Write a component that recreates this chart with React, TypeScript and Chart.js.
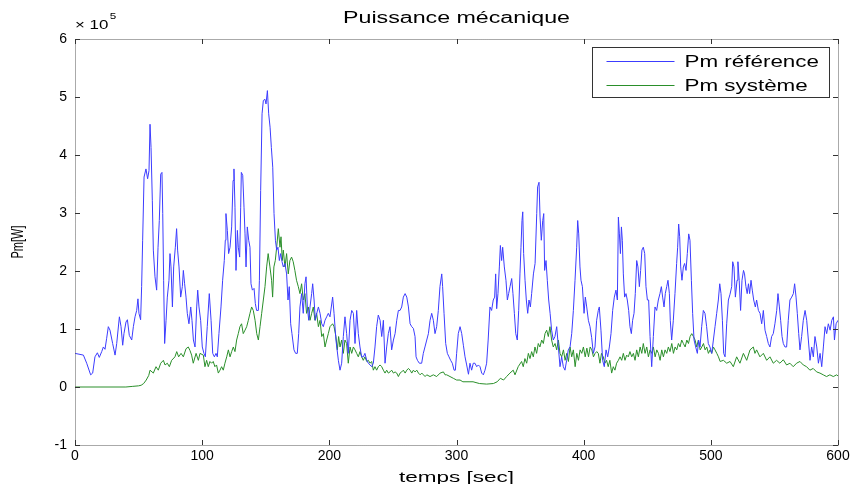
import React, { useEffect, useRef } from 'react';
import { Chart, registerables } from 'chart.js';

Chart.register(...registerables);

// Values of power are in units of 10^5 W
const timeRef = [
  0, 6.6, 9.2, 12.3, 13.9, 15.7, 17.6, 19.1, 21, 22.3, 23.6, 24.9, 26.2, 27.5, 29.6, 31.5, 32.8, 34.9, 36.2, 37.5,
  38.5, 40.1, 41.2, 42.7, 44.6, 45.9, 47.2, 48.5, 49.5, 50.3, 51.6, 52.4, 53.2, 54.3, 55.8, 57.1, 58.2, 59, 59.8, 60.8,
  61.6, 62.9, 64.2, 65.3, 66.3, 67.4, 68.4, 69, 69.7, 70.5, 71.6, 72.6, 73.9, 74.7, 75.5, 76.6, 77.6, 78.9, 79.9, 80.7,
  81.8, 83.1, 84.4, 85.2, 86.2, 87.3, 88.3, 89.6, 91, 92, 93.1, 94.4, 95.7, 96.5, 97.5, 98.8, 100.1, 101.4, 102.5, 104,
  105.6, 107, 108.3, 109.6, 110.9, 111.9, 113.2, 114.8, 116.1, 117.4, 118.2, 118.7, 119.8, 120.8, 121.9, 123.2, 124.3, 125, 125.8, 126.6,
  127.7, 128.4, 129.5, 130.3, 130.8, 131.9, 132.9, 133.7, 134.5, 135.5, 136.6, 137.6, 138.4, 139.5, 140.8, 141.8, 142.8, 144.2, 145, 146,
  147.1, 148.1, 149.4, 150.2, 151.3, 152.3, 153.4, 154.4, 155.5, 156.5, 157.6, 158.6, 159.6, 160.7, 161.7, 162.8, 163.8, 165.1, 166.4, 167.5,
  168.5, 169.6, 170.6, 172.2, 173.5, 174.8, 175.9, 176.9, 178.2, 179.5, 180.8, 181.7, 182.7, 183.8, 184.8, 186.1, 186.9, 188, 189, 190.1,
  191.4, 192.7, 194, 195.3, 196.6, 197.9, 199.2, 200.5, 202.6, 203.7, 205.2, 207.1, 208.4, 209.7, 211, 212.3, 213.6, 214.9, 216.3, 217.6,
  218.9, 220.2, 221.5, 222.8, 224.1, 225.4, 226.7, 228, 229.4, 230.7, 232, 233.3, 234.6, 235.9, 237.2, 238.5, 239.9, 241.2, 242.5, 243.8,
  245.1, 246.4, 247.7, 249, 250.4, 251.7, 253, 254.3, 255.6, 256.9, 258.2, 259.6, 260.9, 262.2, 263.5, 264.8, 266.1, 267.4, 268.2, 269.3,
  270.8, 272.6, 273.9, 275.2, 276.6, 277.9, 279.2, 280.5, 281.8, 283.1, 284.4, 285.7, 287, 288.4, 289.1, 290.2, 291.5, 292.8, 294.1, 295.4,
  296.7, 298.1, 299.1, 300.1, 301.4, 302.8, 304.1, 305.4, 306.7, 308, 309.4, 310.6, 311.9, 313.2, 314.5, 315.9, 317.2, 318.5, 319.8, 321.1,
  322.4, 323.7, 324.9, 326.3, 327.6, 328.9, 330, 330.8, 331.6, 332.6, 333.7, 334.5, 335.5, 336.3, 337.6, 338.9, 340, 341, 342.1, 343.4,
  344.4, 345.5, 346.6, 347.8, 348.9, 349.9, 350.7, 351.5, 352.1, 352.8, 353.9, 354.9, 356, 357, 358.1, 359.1, 360.5, 361.8, 363.1, 363.8,
  364.9, 365.7, 366.7, 367.8, 368.6, 369.3, 370.4, 371.4, 372.5, 373.6, 374.8, 376.1, 377.4, 378.8, 380.1, 381.4, 382.7, 384, 385.3, 386.6,
  387.9, 389.3, 390.6, 391.9, 393.2, 394.5, 395.3, 396.1, 397.1, 397.9, 399, 400.3, 401.3, 402.4, 403.7, 405, 406.3, 407.6, 408.9, 410.2,
  411.5, 412.3, 413.6, 414.9, 416.2, 417.6, 418.9, 420.2, 421.5, 422.8, 424.1, 425.4, 426.5, 427.3, 428.1, 428.9, 429.7, 430.4, 431.2, 432.2,
  433.3, 434.3, 435.4, 436.4, 437.5, 438.5, 439.6, 440.6, 441.7, 442.7, 443.8, 444.8, 445.8, 446.9, 448, 449, 450.1, 451.1, 452.2, 453.5,
  454.8, 456.1, 457.4, 458.7, 460, 461.1, 462.1, 463.2, 464.2, 465.3, 466.3, 467.4, 468.1, 469.2, 470.5, 471.8, 473.1, 473.9, 474.7, 475.5,
  476.3, 477.3, 478.4, 479.4, 480.5, 481.5, 482.6, 483.6, 484.7, 485.7, 486.8, 488.1, 489.4, 490.4, 491.5, 492.8, 494.1, 495.4, 496.7, 498,
  499.3, 500.7, 502, 503.3, 504.6, 505.9, 507, 508, 509.1, 510.1, 511.2, 512.5, 513.8, 515.1, 516.4, 517.2, 518.2, 519.3, 520.6, 521.3,
  522.3, 523.4, 524.5, 525.7, 526.5, 527.6, 528.6, 529.6, 530.5, 531.6, 532.6, 533.7, 535, 536, 537.4, 538.7, 540, 541.3, 542.6, 543.9,
  545.2, 546.5, 547.8, 549.1, 550.4, 551.8, 552.8, 553.9, 554.9, 556, 557, 558.3, 559.6, 560.9, 562.2, 563.6, 564.9, 565.9, 567, 568,
  569.1, 570.1, 571.4, 572.7, 574.1, 575.4, 576.7, 578, 579.3, 580.6, 581.9, 583.3, 584.6, 585.9, 587.2, 588.5, 589.8, 591.1, 592.4, 593.8,
  595.1, 596.4, 597.2, 598.5, 600,
];

const pmRef = [
  0.58, 0.55, 0.41, 0.21, 0.24, 0.52, 0.59, 0.51, 0.61, 0.69, 0.65, 0.84, 1.04, 0.98, 0.75, 0.55, 0.75, 1.21, 1.04, 0.72,
  0.92, 1.12, 1.16, 0.89, 0.81, 1.04, 1.21, 1.32, 1.52, 1.27, 1.16, 1.73, 2.53, 3.62, 3.76, 3.59, 3.73, 4.53, 4.13, 3.22,
  2.36, 1.9, 1.67, 2.41, 2.87, 3.67, 3.7, 2.99, 1.84, 0.75, 1.15, 1.55, 1.84, 2.3, 2.07, 1.38, 2.07, 2.41, 2.73, 2.36,
  2.07, 1.55, 1.73, 2.01, 1.78, 1.55, 1.27, 1.09, 1.38, 1.15, 0.81, 0.69, 1.38, 1.67, 1.38, 1.15, 0.69, 0.58, 0.52, 1.04,
  1.61, 1.15, 0.58, 0.52, 0.58, 0.52, 0.92, 1.38, 1.84, 2.18, 2.53, 2.99, 2.7, 2.3, 2.41, 2.76, 3.56, 3.76, 3.1, 2.01,
  2.7, 2.41, 2.24, 3.1, 3.7, 3.65, 3.1, 2.64, 2.07, 2.76, 2.53, 2.41, 1.78, 1.67, 1.7, 1.44, 1.32, 1.32, 1.84, 3.39,
  4.71, 4.94, 4.96, 4.88, 5.11, 4.71, 4.48, 4.13, 3.79, 2.99, 2.53, 2.36, 2.41, 2.18, 2.3, 2.16, 2.07, 2.13, 1.95, 1.5,
  1.73, 1.09, 0.92, 0.64, 0.58, 0.58, 0.92, 1.38, 1.61, 1.27, 1.78, 1.9, 1.38, 1.15, 1.38, 1.61, 1.78, 1.5, 1.15, 1.27,
  1.38, 1.27, 1.09, 1.04, 1.15, 1.21, 1.27, 1.21, 1.55, 1.27, 0.81, 0.46, 0.29, 0.41, 0.87, 1.21, 0.92, 0.58, 1.15, 1.32,
  1.27, 0.75, 1.32, 0.92, 0.69, 0.52, 0.52, 0.58, 0.46, 0.41, 0.38, 0.35, 0.41, 0.69, 1.04, 1.24, 1.15, 0.87, 1.15, 0.41,
  0.69, 0.92, 1.04, 0.64, 0.81, 0.92, 1.15, 1.32, 1.32, 1.38, 1.55, 1.61, 1.55, 1.38, 1.09, 1.04, 1.01, 0.87, 0.52, 0.46,
  0.41, 0.41, 0.58, 0.69, 0.81, 0.92, 1.15, 1.27, 1.15, 0.92, 1.04, 1.32, 1.73, 1.95, 1.73, 1.27, 0.75, 0.58, 0.52, 0.46,
  0.41, 0.29, 0.29, 0.58, 0.92, 1.04, 0.92, 0.72, 0.52, 0.38, 0.22, 0.41, 0.29, 0.41, 0.41, 0.35, 0.38, 0.35, 0.24, 0.21,
  0.29, 0.41, 0.81, 1.38, 1.32, 1.5, 1.55, 1.95, 1.35, 1.61, 2.07, 2.44, 2.18, 2.41, 2.07, 1.84, 1.5, 1.61, 1.73, 1.87,
  1.61, 1.27, 0.92, 0.81, 1.32, 1.95, 2.41, 2.87, 3.02, 2.3, 1.84, 1.5, 1.27, 1.5, 1.38, 1.61, 1.95, 2.13, 2.99, 3.45,
  3.53, 2.93, 2.53, 2.87, 2.99, 2.01, 2.18, 1.84, 1.5, 1.27, 0.98, 0.81, 0.87, 1.04, 0.69, 0.35, 0.52, 0.35, 0.29, 0.46,
  0.64, 0.69, 0.92, 1.32, 1.84, 2.41, 2.87, 2.64, 2.07, 1.84, 1.73, 1.27, 1.55, 1.38, 1.15, 1.04, 0.85, 0.58, 0.69, 1.15,
  1.32, 1.38, 0.98, 0.46, 0.35, 0.64, 0.52, 0.69, 0.92, 1.32, 1.55, 1.67, 1.5, 2.93, 2.64, 2.3, 2.76, 2.53, 1.95, 1.55,
  1.61, 1.5, 1.32, 1.04, 0.92, 1.15, 1.27, 1.61, 2.18, 2.07, 1.73, 2.01, 2.36, 2.41, 2.3, 1.73, 1.5, 1.5, 0.87, 0.35,
  0.87, 1.38, 1.32, 1.5, 1.61, 1.73, 1.55, 1.38, 1.61, 1.73, 1.84, 1.61, 1.15, 0.81, 1.15, 1.61, 2.13, 2.41, 2.81, 2.59,
  2.07, 1.84, 2.07, 2.13, 2.01, 2.3, 2.64, 2.53, 1.84, 1.27, 0.81, 0.69, 0.58, 0.81, 0.69, 1.04, 1.32, 1.27, 1.04, 0.75,
  0.69, 0.58, 0.81, 1.04, 1.27, 1.5, 1.78, 1.61, 1.15, 0.58, 0.52, 1.1, 1.5, 1.6, 1.73, 2.16, 2.07, 1.55, 1.84, 2.16,
  1.84, 1.32, 1.84, 2.01, 1.95, 1.73, 1.61, 1.78, 1.61, 1.84, 1.67, 1.5, 1.38, 1.5, 1.32, 1.27, 1.09, 1.32, 0.98, 0.87,
  0.75, 0.69, 0.87, 0.92, 1.09, 1.32, 1.61, 1.38, 1.15, 0.87, 0.75, 0.69, 0.69, 1.15, 1.5, 1.55, 1.61, 1.78, 1.55, 1.27,
  0.92, 0.64, 0.87, 1.15, 1.32, 1.15, 0.81, 0.46, 0.69, 0.52, 0.87, 0.69, 0.41, 0.58, 0.35, 0.69, 1.04, 0.92, 1.09, 0.98,
  1.15, 1.21, 0.81, 1.09, 1.15,
];

const timeSys = [
  0, 40, 45, 50, 52, 54, 56, 58, 59, 61.6, 63.7, 65.5, 67.4, 69.5, 70.8, 72.6, 74.2, 76, 78.6, 80,
  81.5, 83.4, 85.2, 87.3, 89.1, 90.4, 91.7, 93, 95.2, 97, 98.3, 100.9, 102.2, 103.5, 104.8, 106.1, 107.4, 108.7, 110, 111.3,
  112.7, 114, 115.3, 116.6, 117.9, 119.3, 120.6, 121.9, 123.2, 124.5, 125.8, 127.1, 128.4, 129.7, 131, 132.3, 133.7, 135, 136.3, 137.6,
  138.9, 140.2, 141.6, 142.9, 144.2, 145.5, 146.8, 148.1, 149.4, 150.7, 151.9, 153.3, 154.6, 155.4, 156.4, 157.5, 158.6, 159.9, 161.2, 162,
  163, 163.8, 165.1, 166.4, 167.7, 169, 170.3, 171.6, 172.9, 174.2, 175.6, 176.9, 178.2, 179.5, 180.8, 182.1, 183.5, 184.8, 186.1, 187.4,
  188.7, 190, 191.4, 192.7, 194, 195.3, 196.6, 197.9, 199.2, 200.5, 202.6, 203.7, 205.2, 206.3, 207.3, 208.4, 209.7, 211, 212.3, 213.6,
  214.9, 216.3, 217.6, 218.9, 220.2, 221.5, 222.8, 224.1, 225.4, 226.7, 228, 229.4, 230.7, 232, 233.3, 234.6, 235.9, 237.2, 238.5, 239.9,
  241.2, 242.5, 243.8, 245.1, 246.4, 247.7, 249, 250.4, 251.7, 253, 254.3, 255.6, 256.9, 258.2, 259.6, 260.9, 262.2, 263.5, 264.8, 266.1,
  267.4, 268.8, 270.1, 271.4, 272.7, 274, 275.3, 276.6, 279.2, 281.8, 284.4, 287.1, 289.7, 291, 292.3, 294.9, 297.5, 300.1, 302.8, 305,
  310.6, 313, 318, 323.7, 329, 332, 334.5, 337, 339.4, 342, 344.6, 346, 348.5, 351.2, 352.5, 353.8, 355.2, 356.5, 357.8, 359.1,
  360.4, 361.7, 363, 364.3, 365.6, 367, 368.3, 369.6, 370.9, 372.2, 373.5, 374.8, 376.1, 377.5, 378.8, 380.1, 381.4, 382.7, 384.1, 385.4,
  386.7, 388, 389.3, 390.6, 391.9, 393.3, 394.6, 395.9, 397.2, 398.5, 399.8, 401.2, 402.5, 403.8, 405.1, 406.4, 407.7, 409, 410.3, 411.5,
  412.8, 414, 415.4, 416.7, 418, 419.3, 420.6, 422, 423.3, 424.6, 425.9, 427.3, 428.6, 429.9, 431.2, 432.5, 433.8, 435.1, 436.4, 437.8,
  439.1, 440.4, 441.7, 443, 444.4, 445.7, 446.9, 448.3, 449.6, 450.9, 452.2, 453.5, 454.8, 456.2, 457.5, 458.8, 460.1, 461.4, 462.7, 464,
  465.3, 466.6, 467.9, 469.3, 470.6, 471.9, 473.2, 474.5, 475.8, 477.1, 478.4, 479.8, 481.1, 482.4, 483.7, 485, 486.3, 487.6, 488.9, 490.2,
  491.6, 492.9, 494.2, 495.5, 496.8, 498.1, 499.4, 500.7, 502, 503.3, 504.7, 506, 507.3, 509.9, 512.5, 515.1, 517.7, 520.3, 522.9, 525.6,
  528.2, 530.8, 533.4, 534.7, 536, 538.6, 541.3, 543.9, 546.5, 549.1, 551.7, 554.3, 557, 559.6, 562.2, 564.8, 567.4, 570.1, 572.7, 575.3,
  577.9, 580.5, 583.2, 585.8, 588.4, 591, 593.6, 596.3, 599, 600,
];

const pmSys = [
  0, 0, 0.01, 0.02, 0.03, 0.06, 0.12, 0.2, 0.29, 0.24, 0.35, 0.29, 0.41, 0.46, 0.38, 0.41, 0.35, 0.46, 0.52, 0.61,
  0.52, 0.58, 0.52, 0.66, 0.69, 0.63, 0.55, 0.41, 0.58, 0.46, 0.58, 0.55, 0.35, 0.46, 0.35, 0.44, 0.41, 0.44, 0.35, 0.38,
  0.24, 0.29, 0.35, 0.29, 0.41, 0.52, 0.64, 0.52, 0.61, 0.69, 0.61, 0.81, 0.92, 1.04, 1.09, 0.92, 0.98, 1.04, 1.15, 1.27,
  1.38, 1.32, 1.15, 0.92, 0.81, 1.04, 1.27, 1.5, 1.73, 2.07, 2.3, 2.07, 1.84, 1.55, 2.07, 2.18, 2.41, 2.73, 2.41, 2.59,
  2.18, 2.36, 2.07, 2.3, 1.95, 2.18, 2.24, 2.16, 2.01, 1.84, 1.73, 1.61, 1.78, 1.5, 1.61, 1.27, 1.38, 1.15, 1.27, 1.38,
  1.15, 1.27, 1.04, 1.15, 0.87, 0.92, 0.69, 0.81, 0.92, 1.04, 1.09, 1.04, 0.87, 0.64, 0.87, 0.69, 0.81, 0.58, 0.81, 0.75,
  0.41, 0.69, 0.58, 0.69, 0.64, 0.58, 0.52, 0.61, 0.52, 0.46, 0.52, 0.44, 0.46, 0.41, 0.44, 0.29, 0.35, 0.29, 0.35, 0.38,
  0.35, 0.29, 0.24, 0.29, 0.24, 0.26, 0.29, 0.24, 0.26, 0.24, 0.18, 0.24, 0.26, 0.29, 0.24, 0.29, 0.32, 0.29, 0.24, 0.29,
  0.26, 0.29, 0.24, 0.21, 0.24, 0.21, 0.18, 0.21, 0.18, 0.21, 0.18, 0.24, 0.26, 0.21, 0.21, 0.18, 0.15, 0.12, 0.12, 0.09,
  0.09, 0.09, 0.06, 0.05, 0.06, 0.09, 0.15, 0.12, 0.18, 0.24, 0.29, 0.21, 0.35, 0.44, 0.35, 0.49, 0.41, 0.58, 0.49, 0.61,
  0.52, 0.69, 0.58, 0.75, 0.69, 0.81, 0.75, 0.92, 0.98, 0.87, 1.04, 0.81, 0.69, 0.75, 0.64, 0.81, 0.58, 0.52, 0.64, 0.46,
  0.58, 0.44, 0.69, 0.52, 0.64, 0.35, 0.58, 0.46, 0.64, 0.58, 0.69, 0.52, 0.67, 0.52, 0.69, 0.64, 0.52, 0.58, 0.61, 0.58,
  0.41, 0.58, 0.52, 0.41, 0.46, 0.35, 0.46, 0.24, 0.35, 0.29, 0.41, 0.46, 0.52, 0.46, 0.58, 0.46, 0.55, 0.52, 0.61, 0.52,
  0.58, 0.46, 0.64, 0.52, 0.69, 0.58, 0.75, 0.58, 0.69, 0.52, 0.64, 0.58, 0.69, 0.52, 0.64, 0.58, 0.46, 0.64, 0.52, 0.64,
  0.58, 0.69, 0.61, 0.75, 0.58, 0.69, 0.64, 0.75, 0.69, 0.81, 0.75, 0.69, 0.81, 0.75, 0.87, 0.92, 0.87, 0.81, 0.69, 0.81,
  0.64, 0.69, 0.75, 0.64, 0.69, 0.58, 0.64, 0.58, 0.69, 0.64, 0.58, 0.52, 0.44, 0.46, 0.41, 0.44, 0.35, 0.52, 0.41, 0.58,
  0.46, 0.64, 0.69, 0.58, 0.64, 0.52, 0.58, 0.46, 0.52, 0.41, 0.46, 0.41, 0.47, 0.38, 0.41, 0.35, 0.41, 0.44, 0.38, 0.35,
  0.29, 0.32, 0.26, 0.24, 0.21, 0.18, 0.21, 0.18, 0.21, 0.19,
];

const xTickValues = [0, 100, 200, 300, 400, 500, 600];
const yTickValues = [-1, 0, 1, 2, 3, 4, 5, 6];
const seriesLabels = ['Pm référence', 'Pm système'];
const seriesColors = ['#3c3cff', '#2a8f2a'];
const chartTitle = 'Puissance mécanique';
const xAxisLabel = 'temps [sec]';
const yAxisLabel = 'Pm[W]';
const exponentBase = '× 10';
const exponentPower = '5';

const FONT = "'Liberation Sans', Arial, Helvetica, sans-serif";

const matlabDecor = {
  id: 'matlabDecor',
  afterDatasetsDraw(chart: any) {
    const { ctx, chartArea: ca, scales } = chart;
    const xs = scales.x;
    const ys = scales.y;
    ctx.save();
    // axes box
    ctx.strokeStyle = '#555';
    ctx.lineWidth = 1;
    ctx.setLineDash([1, 1]);
    ctx.strokeRect(Math.round(ca.left) + 0.5, Math.round(ca.top) + 0.5, Math.round(ca.right - ca.left), Math.round(ca.bottom - ca.top));
    ctx.setLineDash([]);
    // inward ticks
    ctx.strokeStyle = '#333';
    ctx.beginPath();
    const tl = 5;
    xTickValues.forEach((v) => {
      const px = Math.round(xs.getPixelForValue(v)) + 0.5;
      ctx.moveTo(px, ca.bottom);
      ctx.lineTo(px, ca.bottom - tl);
      ctx.moveTo(px, ca.top);
      ctx.lineTo(px, ca.top + tl);
    });
    yTickValues.forEach((v) => {
      const py = Math.round(ys.getPixelForValue(v)) + 0.5;
      ctx.moveTo(ca.left, py);
      ctx.lineTo(ca.left + tl, py);
      ctx.moveTo(ca.right, py);
      ctx.lineTo(ca.right - tl, py);
    });
    ctx.stroke();

    // legend box
    const bw = 237;
    const bh = 50;
    const bx = Math.round(ca.right - 9 - bw) + 0.5;
    const by = Math.round(ca.top + 8) + 0.5;
    ctx.fillStyle = '#fff';
    ctx.fillRect(bx, by, bw, bh);
    ctx.strokeStyle = '#333';
    ctx.strokeRect(bx, by, bw, bh);
    seriesLabels.forEach((lab, i) => {
      const ly = Math.round(by + 13 + i * 24) + 0.5;
      ctx.strokeStyle = seriesColors[i];
      ctx.beginPath();
      ctx.moveTo(bx + 14, ly);
      ctx.lineTo(bx + 82, ly);
      ctx.stroke();
      ctx.save();
      ctx.translate(bx + 92, ly);
      ctx.scale(1.4, 1);
      ctx.fillStyle = '#000';
      ctx.font = `16px ${FONT}`;
      ctx.textAlign = 'left';
      ctx.textBaseline = 'middle';
      ctx.fillText(lab, 0, 1);
      ctx.restore();
    });

    // title
    ctx.fillStyle = '#000';
    ctx.save();
    ctx.translate((ca.left + ca.right) / 2, 19);
    ctx.scale(1.45, 1);
    ctx.font = `16px ${FONT}`;
    ctx.textAlign = 'center';
    ctx.textBaseline = 'middle';
    ctx.fillText(chartTitle, 0, 0);
    ctx.restore();

    // exponent
    ctx.save();
    ctx.translate(ca.left, 25);
    ctx.scale(1.3, 1);
    ctx.font = `13px ${FONT}`;
    ctx.textAlign = 'left';
    ctx.textBaseline = 'middle';
    ctx.fillText(exponentBase, 0, 0);
    const w = ctx.measureText(exponentBase).width;
    ctx.font = `9px ${FONT}`;
    ctx.fillText(exponentPower, w + 1, -8);
    ctx.restore();

    // x axis label
    ctx.save();
    ctx.translate((ca.left + ca.right) / 2, 478);
    ctx.scale(1.5, 1);
    ctx.font = `15px ${FONT}`;
    ctx.textAlign = 'center';
    ctx.textBaseline = 'middle';
    ctx.fillText(xAxisLabel, 0, 0);
    ctx.restore();

    // y axis label
    ctx.save();
    ctx.translate(18, (ca.top + ca.bottom) / 2);
    ctx.scale(1.5, 1);
    ctx.rotate(-Math.PI / 2);
    ctx.font = `11px ${FONT}`;
    ctx.textAlign = 'center';
    ctx.textBaseline = 'middle';
    ctx.fillText(yAxisLabel, 0, 0);
    ctx.restore();

    ctx.restore();
  },
};

export default function App() {
  const canvasRef = useRef<HTMLCanvasElement | null>(null);

  useEffect(() => {
    const canvas = canvasRef.current;
    if (!canvas) return;
    const refData = timeRef.map((t, i) => ({ x: t, y: pmRef[i] }));
    const sysData = timeSys.map((t, i) => ({ x: t, y: pmSys[i] }));
    const chart = new Chart(canvas, {
      type: 'line',
      data: {
        datasets: [
          {
            label: seriesLabels[0],
            data: refData,
            borderColor: seriesColors[0],
            borderWidth: 1,
            pointRadius: 0,
            tension: 0,
            fill: false,
          },
          {
            label: seriesLabels[1],
            data: sysData,
            borderColor: seriesColors[1],
            borderWidth: 1,
            pointRadius: 0,
            tension: 0,
            fill: false,
          },
        ],
      },
      options: {
        animation: false,
        responsive: true,
        maintainAspectRatio: false,
        parsing: false,
        layout: { padding: { left: 0, right: 23, top: 39, bottom: 0 } },
        plugins: {
          legend: { display: false },
          title: { display: false },
          tooltip: { enabled: false },
        },
        scales: {
          x: {
            type: 'linear',
            min: 0,
            max: 600,
            grid: { display: false, drawTicks: false },
            border: { display: false },
            ticks: {
              stepSize: 100,
              padding: 3,
              color: '#000',
              font: { family: FONT, size: 14 },
              maxRotation: 0,
            },
            afterFit: (scale: any) => {
              scale.height = 39;
            },
          },
          y: {
            type: 'linear',
            min: -1,
            max: 6,
            grid: { display: false, drawTicks: false },
            border: { display: false },
            ticks: {
              stepSize: 1,
              padding: 8,
              color: '#000',
              font: { family: FONT, size: 14 },
            },
            afterFit: (scale: any) => {
              scale.width = 75;
            },
          },
        },
      },
      plugins: [matlabDecor],
    });
    return () => chart.destroy();
  }, []);

  return (
    <div style={{ position: 'fixed', left: 0, top: 0, width: 861, height: 484, background: '#fff' }}>
      <canvas ref={canvasRef} />
    </div>
  );
}
